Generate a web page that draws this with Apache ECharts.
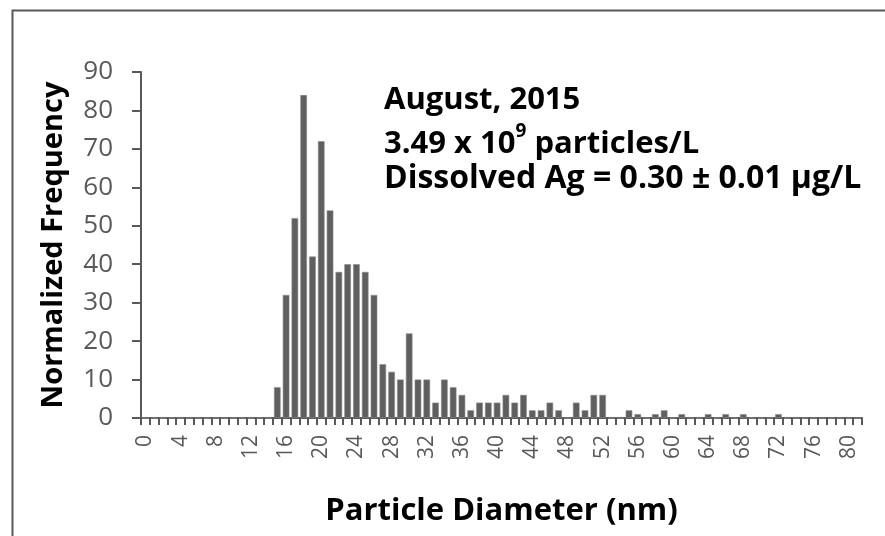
<!DOCTYPE html>
<html>
<head>
<meta charset="utf-8">
<script src="https://cdn.jsdelivr.net/npm/echarts@6/dist/echarts.min.js"></script>
<style>html,body{margin:0;padding:0;background:#fff}#c{width:885px;height:536px}</style>
</head>
<body>
<div id="c"></div>
<script>
// Particle diameter categories (nm), 0..81
var categories = [];
for (var i = 0; i <= 81; i++) categories.push(String(i));
// Normalized frequency per diameter
var frequency = [
  0,0,0,0,0,0,0,0,0,0,0,0,0,0,0,
  8,32,52,84,42,72,54,38,40,40,38,32,14,12,10,
  22,10,10,4,10,8,6,2,4,4,4,6,4,6,2,2,4,2,0,4,
  2,6,6,0,0,2,1,0,1,2,0,1,0,0,1,0,1,0,1,0,
  0,0,1,0,0,0,0,0,0,0,0,0
];
var yTicks = [0,10,20,30,40,50,60,70,80,90];
var annotations = ['August, 2015', '3.49 x 10', '9', ' particles/L', 'Dissolved Ag = 0.30 \u00b1 0.01 \u00b5g/L'];

var FONT = 'Open Sans';
var chart = echarts.init(document.getElementById('c'));
chart.setOption({
  animation: false,
  backgroundColor: '#ffffff',
  textStyle: {fontFamily: FONT},
  graphic: [{
    type: 'rect', left: 10, top: 8,
    shape: {width: 890, height: 540},
    style: {fill: 'none', stroke: '#595959', lineWidth: 2}
  }],
  title: [
    {text: annotations[0], left: 379, top: 80, textStyle: {fontFamily: FONT, fontSize: 31, fontWeight: 'bold', color: '#000'}},
    {text: '{a|' + annotations[1] + '}{s|' + annotations[2] + '}{a|' + annotations[3] + '}', left: 379, top: 117,
     textStyle: {rich: {
       a: {fontFamily: FONT, fontSize: 31, fontWeight: 'bold', color: '#000', lineHeight: 38, verticalAlign: 'bottom'},
       s: {fontFamily: FONT, fontSize: 19, fontWeight: 'bold', color: '#000', lineHeight: 38, verticalAlign: 'top', padding: [0,0,12,0]}
     }}},
    {text: annotations[4], left: 379, top: 158, textStyle: {fontFamily: FONT, fontSize: 32, fontWeight: 'bold', color: '#000'}}
  ],
  grid: {left: 141, right: 23, top: 72, bottom: 118, containLabel: false, outerBoundsMode: 'none'},
  xAxis: {
    type: 'category',
    data: categories,
    boundaryGap: true,
    name: 'Particle Diameter (nm)',
    nameLocation: 'middle',
    nameGap: 78,
    nameTextStyle: {fontFamily: FONT, fontSize: 31, fontWeight: 'bold', color: '#000'},
    axisLine: {lineStyle: {color: '#595959', width: 2}},
    axisTick: {show: true, interval: 0, alignWithLabel: false, length: 7, lineStyle: {color: '#595959', width: 2}},
    axisLabel: {interval: 3, rotate: 90, fontFamily: FONT, fontSize: 21, color: '#595959', margin: 17},
    splitLine: {show: false}
  },
  yAxis: {
    type: 'value',
    min: 0, max: 90, interval: 10,
    name: 'Normalized Frequency',
    nameLocation: 'middle',
    nameGap: 73,
    nameTextStyle: {fontFamily: FONT, fontSize: 29, fontWeight: 'bold', color: '#000'},
    axisLine: {show: true, lineStyle: {color: '#595959', width: 2}},
    axisTick: {show: true, length: 9, lineStyle: {color: '#595959', width: 2}},
    axisLabel: {fontFamily: FONT, fontSize: 26, color: '#595959', margin: 28,
      formatter: function (v) { return yTicks.indexOf(v) >= 0 ? String(v) : ''; }},
    splitLine: {show: false}
  },
  series: [{
    type: 'bar',
    data: frequency,
    barCategoryGap: '25%',
    itemStyle: {color: '#5f5f5f', borderColor: '#8a8a8a', borderWidth: 0.6}
  }]
});
</script>
</body>
</html>
